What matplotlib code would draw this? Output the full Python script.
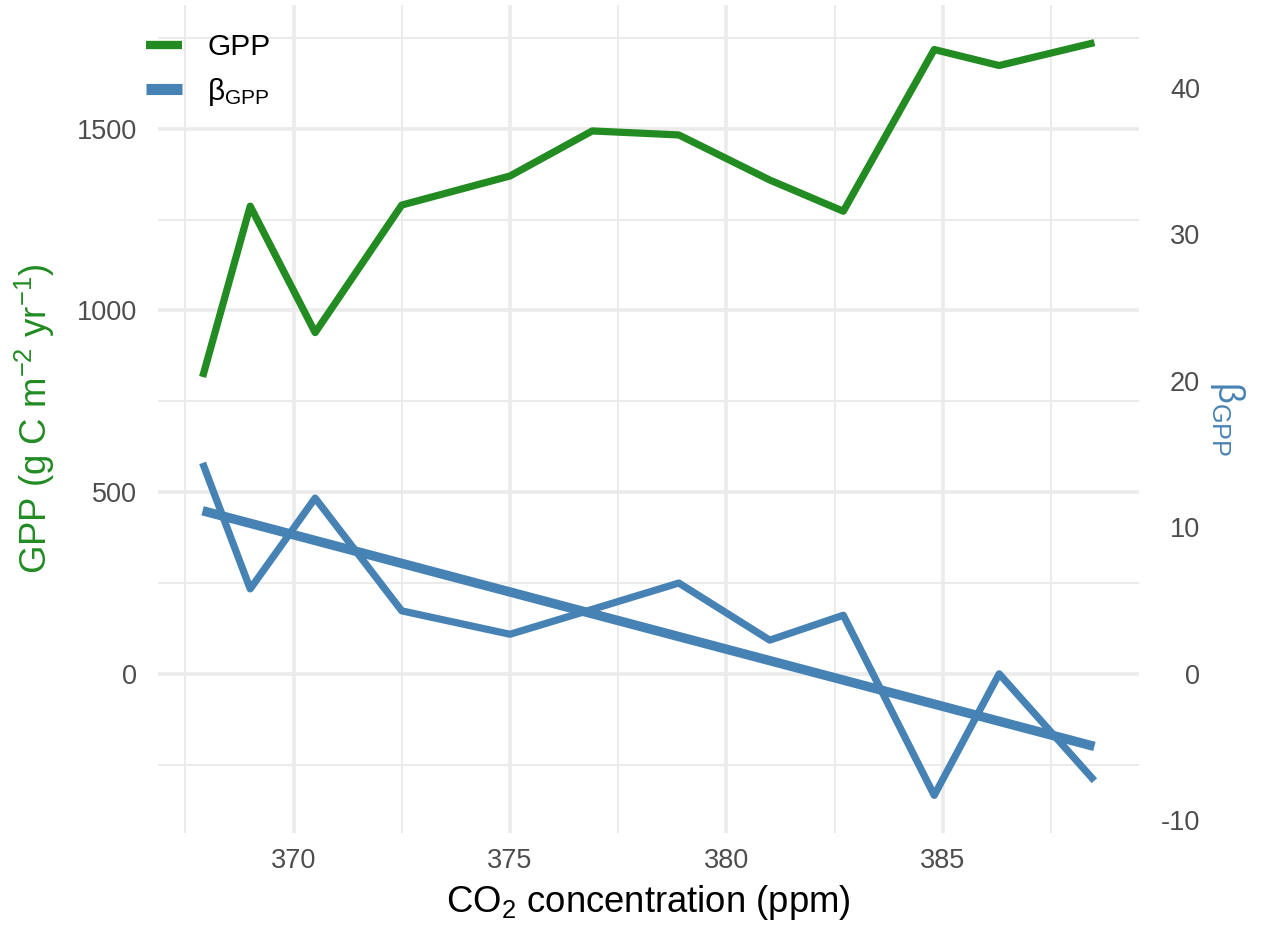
import matplotlib
matplotlib.use("Agg")
import matplotlib.pyplot as plt
import numpy as np
from matplotlib.lines import Line2D
from matplotlib.ticker import MultipleLocator

# -------- data --------
co2 = [367.9, 369.0, 370.5, 372.5, 375.0, 376.9, 378.9, 381.0, 382.7, 384.8, 386.3, 388.5]
gpp = [817, 1287, 939, 1290, 1370, 1494, 1483, 1359, 1273, 1718, 1674, 1737]
beta = [14.4, 5.8, 12.0, 4.3, 2.7, 4.4, 6.2, 2.3, 4.0, -8.3, 0.0, -7.3]

gpp_ticks = [0, 500, 1000, 1500]
beta_ticks = [-10, 0, 10, 20, 30, 40]
co2_ticks = [370, 375, 380, 385]

K = 40.3  # beta -> GPP scale of the secondary axis

GREEN = "#228B22"
BLUE = "#4682B4"
GRID = "#EBEBEB"
TICK = "#4D4D4D"

plt.rcParams["font.family"] = ["Liberation Sans", "DejaVu Sans"]
plt.rcParams["mathtext.fontset"] = "custom"
plt.rcParams["mathtext.rm"] = "Liberation Sans"
plt.rcParams["mathtext.it"] = "Liberation Sans:italic"
plt.rcParams["mathtext.bf"] = "Liberation Sans:bold"

fig = plt.figure(figsize=(12.61, 9.25), dpi=100)
ax = fig.add_axes([158 / 1261, 1 - 833 / 925, 981 / 1261, 828 / 925])

x = np.array(co2, dtype=float)
b = np.array(beta, dtype=float)
g = np.array(gpp, dtype=float)

# linear fit of beta vs CO2
slope, icpt = np.polyfit(x, b, 1)
xf = np.array([x.min(), x.max()])
bf = slope * xf + icpt

lw = 5.2
ax.plot(x, g, color=GREEN, lw=lw, solid_capstyle="butt", solid_joinstyle="round", zorder=3)
ax.plot(x, b * K, color=BLUE, lw=lw, solid_capstyle="butt", solid_joinstyle="round", zorder=3)
ax.plot(xf, bf * K, color=BLUE, lw=6.8, solid_capstyle="butt", zorder=3)

# limits with ggplot-style 5% expansion
xr = x.max() - x.min()
ax.set_xlim(x.min() - 0.05 * xr, x.max() + 0.05 * xr)
lo = min(g.min(), (b * K).min(), (bf * K).min())
hi = max(g.max(), (b * K).max(), (bf * K).max())
yr = hi - lo
ax.set_ylim(lo - 0.05 * yr, hi + 0.05 * yr)

# grid
ax.set_xticks(co2_ticks)
ax.set_yticks(gpp_ticks)
ax.xaxis.set_minor_locator(MultipleLocator(2.5))
ax.yaxis.set_minor_locator(MultipleLocator(250))
ax.grid(which="major", color=GRID, lw=2.6, zorder=0)
ax.grid(which="minor", color=GRID, lw=1.4, zorder=0)
ax.set_axisbelow(True)
for s in ax.spines.values():
    s.set_visible(False)

ax.tick_params(which="both", length=0)
ax.tick_params(axis="x", labelsize=19.5, labelcolor=TICK, pad=11)
ax.tick_params(axis="y", labelsize=19.5, labelcolor=TICK, pad=15)

# secondary axis for beta
sec = ax.secondary_yaxis("right", functions=(lambda y: y / K, lambda v: v * K))
sec.set_yticks(beta_ticks, labels=[str(t) for t in beta_ticks], ha="right")
sec.tick_params(length=0, labelsize=19.5, labelcolor=TICK, pad=44)
for s in sec.spines.values():
    s.set_visible(False)

# axis titles
ax.set_xlabel("CO$_\\mathrm{2}$ concentration (ppm)", fontsize=26.3, color="black", va="center")
ax.xaxis.set_label_coords(0.5, -0.0845)
ax.set_ylabel("GPP (g C m$^{\\mathrm{-2}}$ yr$^{\\mathrm{-1}}$)", fontsize=26.3, color=GREEN, va="center")
ax.yaxis.set_label_coords(-0.125, 0.5)
ax.text(1.0907, 0.5, "β$_\\mathrm{GPP}$", transform=ax.transAxes, rotation=270,
        fontsize=26, color=BLUE, ha="center", va="center", rotation_mode="anchor")

# legend
handles = [
    Line2D([0], [0], color=GREEN, lw=6, solid_capstyle="butt"),
    Line2D([0], [0], color=BLUE, lw=8, solid_capstyle="butt"),
]
fig.legend(handles, ["GPP", "β$_\\mathrm{GPP}$"], loc="upper left",
           bbox_to_anchor=(146 / 1261, 1 - 33 / 925), frameon=False,
           fontsize=21.5, borderpad=0, borderaxespad=0, handlelength=1.2,
           handletextpad=0.85, labelspacing=0.5)

fig.savefig("out.png", dpi=100)
